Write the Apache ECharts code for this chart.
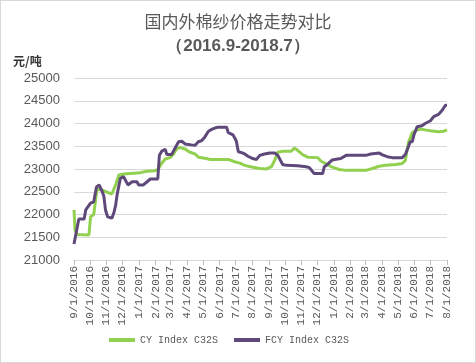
<!DOCTYPE html>
<html><head><meta charset="utf-8">
<script src="https://cdn.jsdelivr.net/npm/echarts@6/dist/echarts.min.js"></script>
<style>html,body{margin:0;padding:0;background:#fff}#c{width:476px;height:363px;box-sizing:border-box;border:1px solid #d9d9d9}</style>
</head><body><div id="c"></div>
<script>
var titleText = '国内外棉纱价格走势对比';
var subTitleText = '（2016.9-2018.7）';
var unitText = '元/吨';
var seriesNames = ['CY Index C32S', 'FCY Index C32S'];
var tickMonths = ['2016-09-01','2016-10-01','2016-11-01','2016-12-01','2017-01-01','2017-02-01','2017-03-01','2017-04-01','2017-05-01','2017-06-01','2017-07-01','2017-08-01','2017-09-01','2017-10-01','2017-11-01','2017-12-01','2018-01-01','2018-02-01','2018-03-01','2018-04-01','2018-05-01','2018-06-01','2018-07-01','2018-08-01'];
var yTicks = [21000,21500,22000,22500,23000,23500,24000,24500,25000];

var cyDates = ['2016-09-01','2016-09-03','2016-09-07','2016-09-29','2016-10-02','2016-10-08','2016-10-14','2016-10-21','2016-10-31','2016-11-11','2016-11-18','2016-11-24','2016-12-03','2017-01-03','2017-01-16','2017-01-31','2017-02-06','2017-02-12','2017-02-19','2017-02-28','2017-03-06','2017-03-13','2017-03-19','2017-03-28','2017-04-06','2017-04-16','2017-04-22','2017-05-07','2017-05-14','2017-06-17','2017-06-29','2017-07-09','2017-07-18','2017-08-02','2017-08-15','2017-08-27','2017-09-06','2017-09-12','2017-09-18','2017-09-27','2017-10-13','2017-10-19','2017-10-25','2017-11-04','2017-11-13','2017-12-02','2017-12-08','2017-12-17','2017-12-29','2018-01-11','2018-01-24','2018-03-02','2018-03-14','2018-03-27','2018-04-08','2018-04-27','2018-05-09','2018-05-15','2018-05-18','2018-05-21','2018-05-28','2018-06-03','2018-06-12','2018-06-21','2018-07-01','2018-07-16','2018-07-26','2018-08-01'];
var cyValues = [22100,21650,21560,21550,21950,22000,22550,22550,22500,22450,22650,22870,22890,22920,22950,22960,23000,23120,23220,23250,23320,23450,23470,23440,23370,23330,23260,23230,23210,23210,23160,23130,23080,23040,23010,23000,23050,23190,23370,23390,23390,23460,23410,23310,23260,23250,23170,23120,23040,22990,22970,22970,23010,23060,23080,23100,23120,23190,23410,23590,23800,23840,23880,23860,23840,23820,23830,23860];

var fcyDates = ['2016-09-01','2016-09-10','2016-09-20','2016-09-23','2016-10-02','2016-10-08','2016-10-13','2016-10-18','2016-10-24','2016-10-27','2016-10-30','2016-11-03','2016-11-11','2016-11-15','2016-11-18','2016-11-21','2016-11-27','2016-12-03','2016-12-11','2016-12-19','2016-12-28','2016-12-31','2017-01-09','2017-01-16','2017-01-22','2017-02-05','2017-02-08','2017-02-13','2017-02-19','2017-02-22','2017-03-03','2017-03-09','2017-03-16','2017-03-22','2017-03-28','2017-04-09','2017-04-16','2017-04-22','2017-04-28','2017-05-04','2017-05-11','2017-05-17','2017-05-23','2017-05-29','2017-06-14','2017-06-17','2017-06-26','2017-07-02','2017-07-06','2017-07-12','2017-07-18','2017-07-24','2017-08-02','2017-08-09','2017-08-15','2017-08-24','2017-09-03','2017-09-12','2017-09-18','2017-09-27','2017-10-04','2017-10-25','2017-11-10','2017-11-16','2017-11-25','2017-12-11','2017-12-14','2017-12-20','2017-12-29','2018-01-08','2018-01-14','2018-01-24','2018-03-02','2018-03-11','2018-03-27','2018-04-02','2018-04-11','2018-04-20','2018-05-09','2018-05-15','2018-05-21','2018-05-24','2018-05-28','2018-05-31','2018-06-06','2018-06-15','2018-06-21','2018-07-01','2018-07-07','2018-07-16','2018-07-23','2018-07-29','2018-08-01'];
var fcyValues = [21350,21900,21900,22100,22250,22280,22600,22650,22500,22400,22100,21950,21920,22050,22200,22450,22800,22830,22650,22720,22720,22650,22650,22720,22780,22780,23300,23400,23430,23320,23320,23450,23600,23610,23550,23530,23520,23600,23620,23700,23830,23870,23900,23920,23920,23800,23750,23620,23380,23360,23330,23280,23230,23210,23300,23330,23350,23350,23300,23100,23080,23070,23050,23030,22900,22900,23050,23100,23200,23220,23230,23300,23300,23330,23350,23310,23270,23250,23250,23320,23500,23600,23600,23750,23930,23950,24000,24060,24150,24200,24290,24400,24400];

function ts(s){var p=s.split('-');return new Date(+p[0],+p[1]-1,+p[2]).getTime();}
function pairs(d,v){return d.map(function(x,i){return [ts(x),v[i]];});}
var tickTs = tickMonths.map(ts);

var chart = echarts.init(document.getElementById('c'), null, {renderer:'canvas'});
chart.setOption({
  animation:false,
  title:[
    {text:titleText,left:'center',top:7,textStyle:{fontFamily:'Noto Sans CJK SC',fontSize:17,fontWeight:'normal',color:'#595959'}},
    {text:subTitleText,left:'center',top:32,textStyle:{fontFamily:'Liberation Sans',fontSize:17,fontWeight:'bold',color:'#595959'}},
    {text:unitText,left:7,top:49,textStyle:{fontFamily:'Noto Sans CJK SC',fontSize:12,fontWeight:'bold',color:'#333'}}
  ],
  legend:{
    bottom:12,left:103,itemGap:16,itemWidth:26,itemHeight:4,icon:'rect',
    textStyle:{fontFamily:'Liberation Mono',fontSize:10,color:'#595959'},
    data:seriesNames
  },
  grid:{left:73,right:28,top:77,bottom:102},
  xAxis:{
    type:'value',min:tickTs[0],max:tickTs[tickTs.length-1],
    axisLine:{show:true,lineStyle:{color:'#d9d9d9'}},
    axisTick:{show:true,length:5,customValues:tickTs,lineStyle:{color:'#bfbfbf'}},
    axisLabel:{customValues:tickTs,rotate:90,fontFamily:'Liberation Mono',fontSize:11,color:'#595959',margin:6,
      formatter:function(v){var d=new Date(v);return (d.getMonth()+1)+'/'+d.getDate()+'/'+d.getFullYear();}},
    splitLine:{show:false}
  },
  yAxis:{
    type:'value',min:yTicks[0],max:yTicks[yTicks.length-1],interval:500,
    axisLine:{show:false},axisTick:{show:false},
    axisLabel:{fontFamily:'Liberation Sans',fontSize:13,color:'#595959',margin:14,formatter:function(v){return String(v);}},
    splitLine:{lineStyle:{color:'#d9d9d9'}}
  },
  series:[
    {name:seriesNames[0],type:'line',showSymbol:false,data:pairs(cyDates,cyValues),lineStyle:{width:3,color:'#92D050'},itemStyle:{color:'#92D050'}},
    {name:seriesNames[1],type:'line',showSymbol:false,data:pairs(fcyDates,fcyValues),lineStyle:{width:3,color:'#5F497A'},itemStyle:{color:'#5F497A'}}
  ]
});
</script></body></html>
